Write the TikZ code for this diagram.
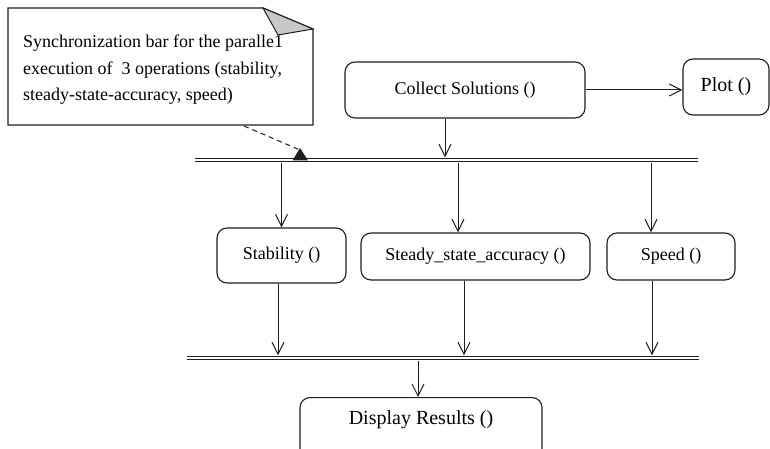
\documentclass[tikz,border=0pt]{standalone}
\usepackage{fontspec}
\setmainfont{Liberation Serif}
\usetikzlibrary{arrows.meta}
\definecolor{ink}{HTML}{1E1E1E}
\definecolor{flap}{HTML}{C8C8C8}
\begin{document}
\begin{tikzpicture}[x=1pt,y=-1pt,
  activity/.style={draw=ink, line width=1.1pt, rounded corners=10pt, inner sep=0pt,
    font=\fontsize{18}{22}\selectfont},
  flow/.style={draw=ink, line width=1pt,
    -{Straight Barb[length=12pt,width=12pt,line width=1pt]}},
  syncbar/.style={draw=ink, line width=1.1pt, double=white, double distance=2pt},
  barnode/.style={inner sep=0pt, minimum height=5pt}]
\useasboundingbox (0,0) rectangle (770,449);
\fill[white] (0,0) rectangle (770,449);
\clip (0,0) rectangle (770,449);

% comment note with folded corner
\draw[ink, line width=1.2pt, fill=white]
  (8,8) -- (263,8) -- (313,29) -- (313,125) -- (8,125) -- cycle;
\draw[ink, line width=1pt, fill=flap] (263,8) -- (278,35) -- (313,29) -- cycle;
\node[font=\fontsize{18}{26.5}\selectfont, align=left, anchor=west, inner sep=0pt]
  (note) at (23,70)
  {Synchronization bar for the paralle1\\execution of\ \ 3 operations (stability,\\steady-state-accuracy, speed)};

% activities
\node[activity, minimum width=240, minimum height=56] (collect) at (465,90) {Collect Solutions ()};
\node[activity, minimum width=86, minimum height=56, font=\fontsize{20}{24}\selectfont]
  (plot) at (726,87) {Plot ()};
\node[activity, minimum width=129, minimum height=55] (stab) at (281.5,255.5) {Stability ()};
\node[activity, minimum width=229, minimum height=47] (steady) at (475.5,256.5) {Steady\_state\_accuracy ()};
\node[activity, minimum width=128, minimum height=47] (speed) at (671,256.5) {Speed ()};
\node[activity, minimum width=242, minimum height=62, anchor=north] (display) at (421,397) {};
\node[font=\fontsize{20}{24}\selectfont] (displaytext) at (421,420) {Display Results ()};

% synchronization bars
\node[barnode, minimum width=503] (bar1) at (446.5,160) {};
\node[barnode, minimum width=512] (bar2) at (443,358) {};
\draw[syncbar] (bar1.west) -- (bar1.east);
\draw[syncbar] (bar2.west) -- (bar2.east);

% note anchor on the fork bar
\coordinate (notetip) at (244,126);
\coordinate (barmark) at (300,150);
\draw[ink, line width=1pt, dash pattern=on 5pt off 4pt] (notetip) -- (barmark);
\fill[ink] (300,148) -- (308,160.5) -- (292.5,160.5) -- cycle;

% control flow
\draw[flow] (collect.east) -- (collect.east -| plot.west);
\draw[flow] ([xshift=-20pt]collect.south) -- ([xshift=-20pt]collect.south |- bar1.north);
\draw[flow] (stab.north |- bar1.south) -- (stab.north);
\draw[flow] ([xshift=-17.5pt]steady.north |- bar1.south) -- ([xshift=-17.5pt]steady.north);
\draw[flow] ([xshift=-20pt]speed.north |- bar1.south) -- ([xshift=-20pt]speed.north);
\draw[flow] ([xshift=-3.5pt]stab.south) -- ([xshift=-3.5pt]stab.south |- bar2.north);
\draw[flow] ([xshift=-11.5pt]steady.south) -- ([xshift=-11.5pt]steady.south |- bar2.north);
\draw[flow] ([xshift=-19pt]speed.south) -- ([xshift=-19pt]speed.south |- bar2.north);
\draw[flow] ([xshift=-3pt]display.north |- bar2.south) -- ([xshift=-3pt]display.north);
\end{tikzpicture}
\end{document}
